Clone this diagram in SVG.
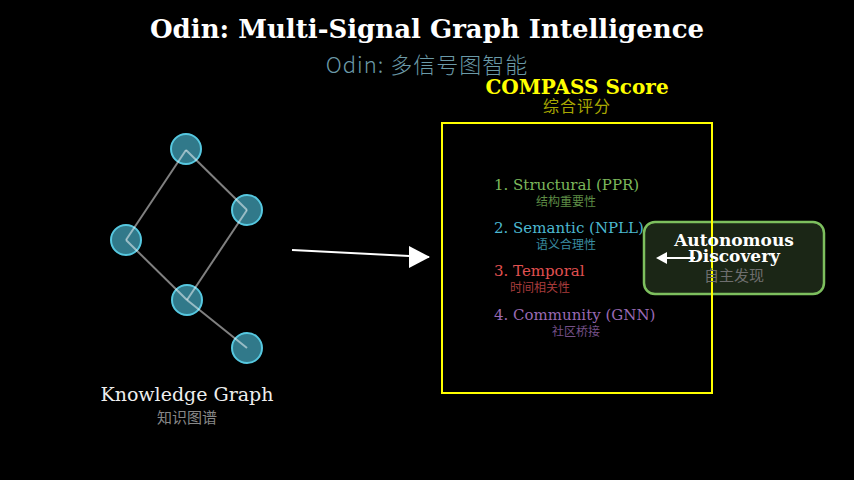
<svg xmlns="http://www.w3.org/2000/svg" width="854" height="480" viewBox="0 0 854 480">
<defs>
<style>
.serif{font-family:"DejaVu Serif","Liberation Serif",serif}
.cjk{font-family:"Noto Sans CJK SC","DejaVu Sans",sans-serif}
.node{fill:#31798a;stroke:#56c8e0;stroke-width:2}
.edge{stroke:#ffffff;stroke-opacity:0.5;stroke-width:2;fill:none}
.item{font-size:15px}
.sub{font-size:12px}
</style>
</defs>
<rect width="854" height="480" fill="#000"/>
<g id="title">
<text class="serif" x="427" y="38" text-anchor="middle" font-size="26" font-weight="bold" fill="#fff">Odin: Multi-Signal Graph Intelligence</text>
<text class="cjk" x="427" y="73" text-anchor="middle" font-size="22" font-weight="200" letter-spacing="1" fill="#6b9aa8">Odin: 多信号图智能</text>
</g>
<g id="graph-nodes">
<circle id="n1" class="node" cx="186" cy="149" r="15"/>
<circle id="n2" class="node" cx="247" cy="210" r="15"/>
<circle id="n3" class="node" cx="126" cy="240" r="15"/>
<circle id="n4" class="node" cx="187" cy="300" r="15"/>
<circle id="n5" class="node" cx="247" cy="348" r="15"/>
</g>
<g id="connectors">
<line class="edge" x1="186" y1="150" x2="126" y2="240"/>
<line class="edge" x1="186" y1="150" x2="247" y2="210"/>
<line class="edge" x1="126" y1="240" x2="187" y2="300"/>
<line class="edge" x1="247" y1="210" x2="187" y2="300"/>
<line class="edge" x1="187" y1="300" x2="247" y2="348"/>
<line x1="292" y1="250" x2="429" y2="257" stroke="#fff" stroke-width="2"/>
<path d="M409,246 L430,257 L409,268 Z" fill="#fff"/>
</g>
<g id="kg-label">
<text class="serif" x="187" y="401" text-anchor="middle" font-size="19" fill="#eee">Knowledge Graph</text>
<text class="cjk" x="187" y="423" text-anchor="middle" font-size="15" fill="#888">知识图谱</text>
</g>
<g id="compass-title">
<text class="serif" x="577" y="94" text-anchor="middle" font-size="20" font-weight="bold" fill="#ffff00">COMPASS Score</text>
<text class="cjk" x="577" y="112" text-anchor="middle" font-size="16" letter-spacing="1" fill="#a8a800">综合评分</text>
</g>
<g id="discovery-bg">
<rect x="644" y="222" width="180" height="72" rx="11" fill="#1b2616" stroke="#7dbf5e" stroke-width="2.5"/>
</g>
<g id="compass">
<rect x="442" y="123" width="270" height="270" fill="none" stroke="#ffff00" stroke-width="2"/>
<text class="serif item" x="494" y="190" fill="#7cb85c">1. Structural (PPR)</text>
<text class="cjk sub" x="566" y="206" text-anchor="middle" fill="#5e8c46">结构重要性</text>
<text class="serif item" x="494" y="233" fill="#4cb8d0">2. Semantic (NPLL)</text>
<text class="cjk sub" x="566" y="249" text-anchor="middle" fill="#3a8ca0">语义合理性</text>
<text class="serif item" x="494" y="276" fill="#e05050">3. Temporal</text>
<text class="cjk sub" x="540" y="292" text-anchor="middle" fill="#a83c3c">时间相关性</text>
<text class="serif item" x="494" y="320" fill="#9a6ab4">4. Community (GNN)</text>
<text class="cjk sub" x="576" y="336" text-anchor="middle" fill="#755088">社区桥接</text>
</g>
<g id="discovery">
<line x1="695" y1="258" x2="664" y2="258" stroke="#fff" stroke-width="2"/>
<path d="M656,258 L667,252 L667,264 Z" fill="#fff"/>
<text class="serif" x="734" y="246" text-anchor="middle" font-size="17" font-weight="bold" fill="#fff">Autonomous</text>
<text class="serif" x="734" y="262" text-anchor="middle" font-size="17" font-weight="bold" fill="#fff">Discovery</text>
<text class="cjk" x="734" y="281" text-anchor="middle" font-size="15" fill="#6e6e6e">自主发现</text>
</g>
</svg>
